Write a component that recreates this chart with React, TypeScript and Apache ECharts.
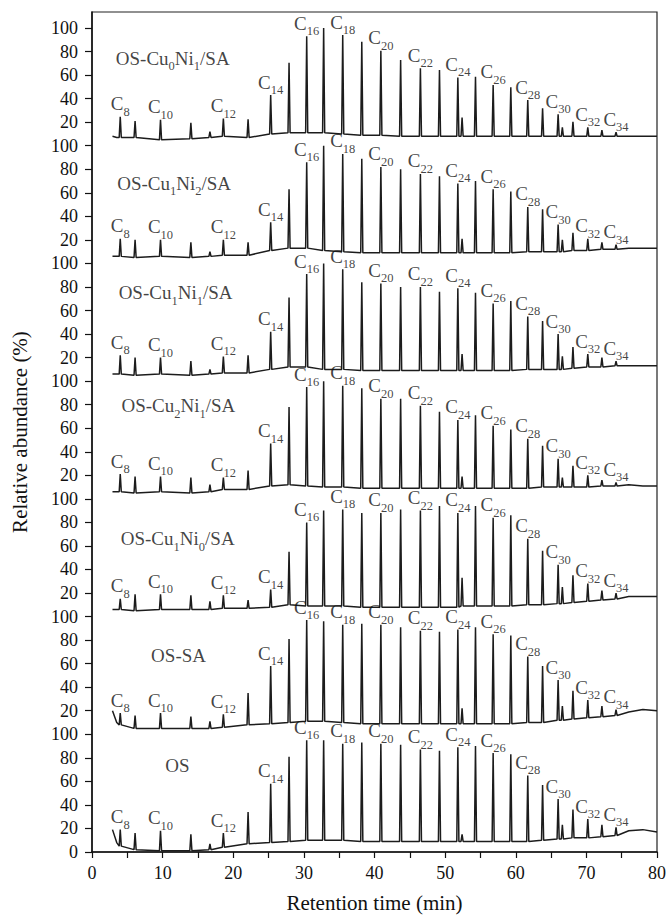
import React, { useEffect, useRef } from "react";
import * as echarts from "echarts";

// Retention times (min) of the peaks (C8 ... C34 plus small side peaks)
const RT = [4.0, 6.1, 9.7, 14.0, 16.7, 18.6, 22.1, 25.3, 27.9, 30.4, 32.8, 35.5, 38.2, 40.9, 43.7, 46.5, 49.2, 51.8, 52.4, 54.3, 56.8, 59.3, 61.7, 63.8, 66.0, 66.6, 68.1, 70.2, 72.2, 74.2];
const HEAD_RT = [2.9, 3.5];
const TAIL_RT = [76, 78, 80];

// Peak tops (%) per sample
const TOP_CU0NI1 = [24.6, 21, 22, 19.5, 12, 23, 22.4, 43, 70.5, 93, 100, 94, 88.4, 80.7, 72.8, 65.8, 64.3, 58, 24, 58.6, 51.6, 49.6, 38.8, 31.8, 26.7, 15.6, 20.4, 15.6, 13.3, 11.4];
const TOP_CU1NI2 = [21, 20, 20, 18, 10, 20, 18, 35, 63, 86, 100, 93, 89, 82, 80, 76, 74, 68, 21, 70, 63, 61, 48, 46, 33, 20, 26, 21, 18, 16];
const TOP_CU1NI1 = [22, 20, 20, 17, 10, 21, 22, 42, 71, 91, 100, 95, 84, 83, 80, 80, 76, 79, 23, 75, 66, 68, 55, 51, 40, 21, 29, 23, 20, 17];
const TOP_CU2NI1 = [21, 19, 19, 18, 12, 18, 24, 47, 78, 95, 100, 96, 94, 85, 85, 79, 74, 67, 19, 71, 62, 59, 51, 45, 34, 18, 28, 20, 16, 14];
const TOP_CU1NI0 = [15, 19, 19, 18, 13, 18, 14, 23, 55, 80, 90, 91, 88, 88, 91, 90, 94, 88, 33, 94, 84, 86, 66, 56, 44, 25, 35, 28, 22, 20];
const TOP_OSSA = [18, 16, 18, 15, 11, 17, 35, 58, 81, 97, 96, 93, 94, 93, 91, 88, 87, 89, 22, 91, 85, 84, 66, 58, 46, 24, 37, 29, 24, 21];
const TOP_OS = [19, 16, 18, 15, 7, 16, 34, 58, 81, 95, 95, 92, 93, 92, 91, 87, 86, 89, 15, 90, 84, 83, 65, 57, 45, 23, 36, 28, 23, 21];

// Baseline level (%) under each peak
const BASE_CU0NI1 = [7, 7, 5, 6, 7, 8, 7, 10, 11, 11, 11, 10, 9, 9, 8, 8, 8, 8, 8, 8, 8, 8, 8, 8, 8, 8, 8, 8, 8, 8];
const BASE_CU1NI2 = [6, 5, 6, 5, 6, 7, 7, 11, 13, 13, 11, 10, 9, 9, 9, 9, 9, 9, 9, 9, 9, 9, 10, 10, 10, 10, 11, 11, 12, 12];
const BASE_CU1NI1 = [6, 5, 6, 5, 6, 7, 7, 10, 12, 12, 10, 10, 9, 9, 9, 9, 9, 9, 9, 9, 9, 9, 10, 10, 10, 10, 11, 12, 12, 13];
const BASE_CU2NI1 = [6, 5, 6, 5, 6, 8, 8, 11, 12, 11, 10, 10, 9, 9, 9, 9, 9, 9, 9, 9, 9, 9, 9, 10, 10, 10, 10, 10, 11, 11];
const BASE_CU1NI0 = [6, 5, 6, 6, 6, 7, 7, 8, 10, 9, 9, 9, 8, 8, 8, 8, 8, 8, 9, 9, 9, 9, 10, 10, 11, 11, 12, 13, 14, 15];
const BASE_OSSA = [8, 5, 5, 5, 5, 6, 8, 9, 10, 11, 11, 10, 9, 9, 9, 9, 9, 9, 9, 9, 9, 9, 10, 10, 12, 12, 13, 14, 15, 16];
const BASE_OS = [5, 2, 1, 1, 2, 4, 7, 8, 9, 10, 10, 10, 9, 9, 9, 9, 9, 9, 9, 9, 9, 9, 9, 10, 11, 11, 12, 12, 13, 14];

const HEAD_CU0NI1 = [8, 7];
const HEAD_CU1NI2 = [6, 6];
const HEAD_CU1NI1 = [6, 6];
const HEAD_CU2NI1 = [6, 6];
const HEAD_CU1NI0 = [6, 6];
const HEAD_OSSA = [20, 10];
const HEAD_OS = [19, 8];

const TAIL_CU0NI1 = [8, 8, 8];
const TAIL_CU1NI2 = [13, 13, 13];
const TAIL_CU1NI1 = [13, 13, 13];
const TAIL_CU2NI1 = [12, 11, 11];
const TAIL_CU1NI0 = [17, 17, 17];
const TAIL_OSSA = [19, 21, 20];
const TAIL_OS = [18, 19, 17];

// Sample names (main text / subscript parts alternating)
const TITLE_PARTS = [
  ["OS-Cu", "0", "Ni", "1", "/SA"],
  ["OS-Cu", "1", "Ni", "2", "/SA"],
  ["OS-Cu", "1", "Ni", "1", "/SA"],
  ["OS-Cu", "2", "Ni", "1", "/SA"],
  ["OS-Cu", "1", "Ni", "0", "/SA"],
  ["OS-SA"],
  ["OS"],
];
const TOPS = [TOP_CU0NI1, TOP_CU1NI2, TOP_CU1NI1, TOP_CU2NI1, TOP_CU1NI0, TOP_OSSA, TOP_OS];
const BASES = [BASE_CU0NI1, BASE_CU1NI2, BASE_CU1NI1, BASE_CU2NI1, BASE_CU1NI0, BASE_OSSA, BASE_OS];
const HEADS = [HEAD_CU0NI1, HEAD_CU1NI2, HEAD_CU1NI1, HEAD_CU2NI1, HEAD_CU1NI0, HEAD_OSSA, HEAD_OS];
const TAILS = [TAIL_CU0NI1, TAIL_CU1NI2, TAIL_CU1NI1, TAIL_CU2NI1, TAIL_CU1NI0, TAIL_OSSA, TAIL_OS];

// Carbon-number labels and the peak they sit on
const LABEL_CARBON = [8, 10, 12, 14, 16, 18, 20, 22, 24, 26, 28, 30, 32, 34];
const LABEL_PEAK = [0, 2, 5, 7, 9, 11, 13, 15, 17, 20, 22, 24, 27, 29];

const PANEL_TICKS = [0, 20, 40, 60, 80];
const X_TICKS = [0, 10, 20, 30, 40, 50, 60, 70, 80];

// layout (title anchor per panel: min, % within panel)
const TITLE_POS = [[3.3, 72], [3.5, 66], [3.7, 73], [4.1, 77], [4.0, 64], [8.3, 65], [10.3, 71]];

const FONT = "'Liberation Serif', 'Times New Roman', serif";
const INK = "#111111";
const RICH = {
  m: { fontFamily: FONT, fontSize: 19, lineHeight: 24, verticalAlign: "top", color: INK },
  s: { fontFamily: FONT, fontSize: 12.5, lineHeight: 14, verticalAlign: "bottom", color: INK },
};

export default function App() {
  const ref = useRef<HTMLDivElement>(null);
  useEffect(() => {
    if (!ref.current) return;
    const chart = echarts.init(ref.current, undefined, { renderer: "svg" });
    const nPanel = TOPS.length;
    const series: any[] = [];
    const labelData: any[] = [];
    const titleData: any[] = [];
    const W = 0.15;
    for (let k = 0; k < nPanel; k++) {
      const off = (nPanel - 1 - k) * 100;
      const pts: number[][] = [];
      HEAD_RT.forEach((x, i) => pts.push([x, HEADS[k][i] + off]));
      RT.forEach((x, i) => {
        pts.push([x - W, BASES[k][i] + off]);
        pts.push([x, TOPS[k][i] + off]);
        pts.push([x + W, BASES[k][i] + off]);
      });
      TAIL_RT.forEach((x, i) => pts.push([x, TAILS[k][i] + off]));
      series.push({
        type: "line",
        data: pts,
        showSymbol: false,
        symbol: "none",
        lineStyle: { color: "#1c1c1c", width: 1.5 },
        silent: true,
        z: 2,
      });
      LABEL_PEAK.forEach((pi, j) => {
        labelData.push({
          value: [RT[pi], TOPS[k][pi] + off],
          label: { formatter: `{m|C}{s|${LABEL_CARBON[j]}}`, color: INK, rich: RICH },
        });
      });
      const parts = TITLE_PARTS[k];
      const txt = parts.map((p, i) => (i % 2 === 0 ? `{m|${p}}` : `{s|${p}}`)).join("");
      titleData.push({
        value: [TITLE_POS[k][0], TITLE_POS[k][1] + off],
        label: { formatter: txt, color: INK, rich: RICH },
      });
    }
    const labelBase = { show: true, color: INK, textBorderWidth: 0, rich: RICH };
    series.push({
      type: "scatter",
      data: labelData,
      symbolSize: 1,
      itemStyle: { color: "rgba(0,0,0,0)" },
      silent: true,
      z: 5,
      label: { ...labelBase, position: "top", distance: -2 },
    });
    series.push({
      type: "scatter",
      data: titleData,
      symbolSize: 1,
      itemStyle: { color: "rgba(0,0,0,0)" },
      silent: true,
      z: 5,
      label: { ...labelBase, position: "right", distance: 0 },
    });

    const yVals: number[] = [];
    for (let k = 0; k < nPanel; k++) PANEL_TICKS.forEach((t) => yVals.push(k * 100 + t));
    yVals.push(nPanel * 100);

    chart.setOption({
      animation: false,
      backgroundColor: "#fff",
      grid: { left: 92, right: 12, top: 12, bottom: 67, show: true, borderColor: "#222", borderWidth: 1.2 },
      xAxis: {
        type: "value",
        min: 0,
        max: 80,
        interval: 5,
        name: "Retention time (min)",
        nameLocation: "middle",
        nameGap: 40,
        nameTextStyle: { fontFamily: FONT, fontSize: 21, color: INK },
        axisLine: { lineStyle: { color: INK, width: 1.5 } },
        axisTick: { length: 6, lineStyle: { color: INK, width: 1.2 } },
        axisLabel: {
          fontFamily: FONT,
          fontSize: 18,
          color: INK,
          margin: 12,
          customValues: X_TICKS,
        },
        splitLine: { show: false },
      },
      yAxis: {
        type: "value",
        min: 0,
        max: 713.6,
        name: "Relative abundance (%)",
        nameLocation: "middle",
        nameGap: 62,
        nameTextStyle: { fontFamily: FONT, fontSize: 21, color: INK },
        axisLine: { show: true, lineStyle: { color: INK, width: 1.5 } },
        axisTick: { show: true, length: 7, customValues: yVals, lineStyle: { color: INK, width: 1.2 } },
        axisLabel: {
          fontFamily: FONT,
          fontSize: 18,
          color: INK,
          margin: 14,
          customValues: yVals,
          formatter: (v: number) => (v === 0 ? "0" : v % 100 === 0 ? "100" : String(v % 100)),
        },
        splitLine: { show: false },
      },
      series,
    });
    return () => chart.dispose();
  }, []);
  return <div ref={ref} style={{ position: "fixed", left: 0, top: 0, width: 669, height: 919 }} />;
}
